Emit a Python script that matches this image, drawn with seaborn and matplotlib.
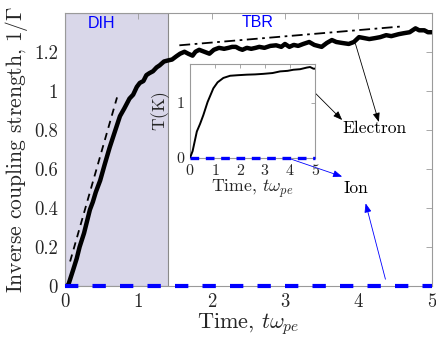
import numpy as np
import pandas as pd
import matplotlib
matplotlib.use("Agg")
import matplotlib.pyplot as plt
import seaborn as sns

# ---- data ----
t_e = [0.03, 0.05, 0.11, 0.16, 0.20, 0.26, 0.30, 0.34, 0.38, 0.42, 0.48, 0.54, 0.61, 0.68, 0.75,
       0.81, 0.88, 0.93, 0.98, 1.02, 1.07, 1.11, 1.15, 1.20, 1.25, 1.29, 1.35, 1.40, 1.46, 1.52,
       1.57, 1.63, 1.68, 1.74, 1.78, 1.83, 1.90, 1.97, 2.03, 2.10, 2.17, 2.23, 2.28, 2.33, 2.38,
       2.42, 2.48, 2.54, 2.60, 2.65, 2.72, 2.80, 2.88, 2.95, 3.00, 3.06, 3.12, 3.18, 3.25, 3.33,
       3.40, 3.45, 3.50, 3.57, 3.64, 3.70, 3.78, 3.87, 3.94, 4.01, 4.08, 4.15, 4.23, 4.30, 4.38,
       4.45, 4.55, 4.62, 4.70, 4.78, 4.83, 4.90, 4.95, 5.00]
inv_gamma_e = [0.00, 0.01, 0.08, 0.14, 0.20, 0.27, 0.33, 0.39, 0.43, 0.48, 0.54, 0.62, 0.71, 0.79, 0.87,
               0.91, 0.96, 0.98, 1.02, 1.04, 1.05, 1.08, 1.09, 1.10, 1.12, 1.13, 1.15, 1.155, 1.16, 1.177,
               1.19, 1.20, 1.19, 1.18, 1.20, 1.21, 1.20, 1.19, 1.21, 1.22, 1.215, 1.22, 1.225, 1.225, 1.215,
               1.21, 1.22, 1.215, 1.22, 1.225, 1.22, 1.23, 1.233, 1.225, 1.24, 1.225, 1.235, 1.23, 1.24, 1.25,
               1.235, 1.23, 1.225, 1.245, 1.26, 1.25, 1.245, 1.24, 1.25, 1.275, 1.27, 1.265, 1.27, 1.275, 1.285,
               1.28, 1.29, 1.295, 1.30, 1.32, 1.31, 1.31, 1.30, 1.30]
t_ion = [0.0, 5.0]
inv_gamma_ion = [0.0, 0.0]

# guide lines
t_dih_fit = [0.07, 0.71]
y_dih_fit = [0.125, 0.966]
t_tbr_fit = [1.56, 4.60]
y_tbr_fit = [1.233, 1.33]

# inset temperature
t_in = [0.0, 0.1, 0.27, 0.4, 0.53, 0.7, 0.93, 1.1, 1.33, 1.6, 1.9, 2.27, 2.6, 2.93, 3.3, 3.6,
        3.9, 4.13, 4.4, 4.67, 4.8, 4.93, 5.0]
T_e_in = [0.0, 0.12, 0.48, 0.62, 0.78, 1.02, 1.27, 1.38, 1.46, 1.50, 1.51, 1.52, 1.525, 1.535,
          1.55, 1.58, 1.59, 1.61, 1.62, 1.65, 1.66, 1.63, 1.63]
t_ion_in = [0.0, 5.0]
T_ion_in = [0.0, 0.0]

xticks = [0, 1, 2, 3, 4, 5]
yticks = [0, 0.2, 0.4, 0.6, 0.8, 1, 1.2]
yticklabels = ["0", "0.2", "0.4", "0.6", "0.8", "1", "1.2"]

sns.set_theme(style="white")
plt.rcParams["font.family"] = ["cmr10"]
plt.rcParams["mathtext.fontset"] = "cm"
plt.rcParams["axes.formatter.use_mathtext"] = True

fig = plt.figure(figsize=(4.36, 3.44), dpi=100)
ax = fig.add_axes([0.149, 0.169, 0.841, 0.794])

frame = "#9a9a9a"
txt = "#262626"

ax.axvspan(0, 1.4, facecolor="#d9d7e9", edgecolor="#8a8a8a", linewidth=0.8, zorder=0)

df_e = pd.DataFrame({"t": t_e, "y": inv_gamma_e})
sns.lineplot(data=df_e, x="t", y="y", ax=ax, color="black", linewidth=3.2, zorder=3)
ax.plot(t_ion, inv_gamma_ion, color="#0000ff", linewidth=3.0, linestyle=(0, (3.2, 3.4)),
        solid_capstyle="butt", dash_capstyle="butt", zorder=4, clip_on=False)
ax.plot(t_dih_fit, y_dih_fit, color="black", linewidth=1.3, linestyle=(0, (4, 3)), zorder=3)
ax.plot(t_tbr_fit, y_tbr_fit, color="black", linewidth=1.3, linestyle=(0, (6, 2.5, 1.5, 2.5)), zorder=3)

ax.set_xlim(0, 5)
ax.set_ylim(0, 1.4)
ax.set_xticks(xticks)
ax.set_xticklabels([str(v) for v in xticks])
ax.set_yticks(yticks)
ax.set_yticklabels(yticklabels)
ax.tick_params(direction="in", length=4, width=0.6, color=frame, labelcolor=txt,
               labelsize=13.5, top=True, right=True, pad=5)
for s in ax.spines.values():
    s.set_color(frame)
    s.set_linewidth(0.8)
ax.set_xlabel(r"Time, $t\omega_{pe}$", fontsize=16, color=txt, labelpad=0)
ax.set_ylabel(r"Inverse coupling strength, $1/\Gamma$", fontsize=15.5, color=txt, labelpad=3)

ax.text(0.50, 1.345, "DIH", color="#0000ff", fontsize=11.5, family="Liberation Sans",
        ha="center", va="center")
ax.text(2.63, 1.35, "TBR", color="#0000ff", fontsize=11.5, family="Liberation Sans",
        ha="center", va="center")

# inset
axin = fig.add_axes([0.436, 0.5416, 0.2867, 0.2715])
df_in = pd.DataFrame({"t": t_in, "T": T_e_in})
sns.lineplot(data=df_in, x="t", y="T", ax=axin, color="black", linewidth=1.4, zorder=3)
axin.plot(t_ion_in, T_ion_in, color="#0000ff", linewidth=2.4, linestyle=(0, (2.6, 2.0)),
          dash_capstyle="butt", zorder=4, clip_on=False)
axin.set_xlim(0, 5)
axin.set_ylim(0, 1.71)
axin.set_xticks(xticks)
axin.set_yticks([0, 1])
axin.set_yticklabels(["0", "1"])
axin.tick_params(direction="in", length=3, width=0.6, color=frame, labelcolor=txt,
                 labelsize=11.5, top=True, right=True, pad=4)
for s in axin.spines.values():
    s.set_color(frame)
    s.set_linewidth(0.8)
axin.set_xlabel(r"Time, $t\omega_{pe}$", fontsize=12.8, color=txt, labelpad=0)
axin.set_ylabel(r"T$(\mathrm{K})$", fontsize=12.5, color=txt, labelpad=3)

# annotations
ax.text(4.226, 0.809, "Electron", fontsize=12.5, color="black", ha="center", va="center")
ax.text(3.97, 0.50, "Ion", fontsize=12.5, color="black", ha="center", va="center")

head = "-|>,head_length=0.9,head_width=0.35"
arrow_k = dict(arrowstyle=head, color="black", lw=0.6, mutation_scale=6, shrinkA=0, shrinkB=0)
arrow_b = dict(arrowstyle=head, color="#0000ff", lw=0.6, mutation_scale=6, shrinkA=0, shrinkB=0)
ax.annotate("", xy=(3.78, 0.85), xycoords="data", xytext=(4.27, 1.52), textcoords=axin.transData,
            arrowprops=arrow_k)
ax.annotate("", xy=(4.28, 0.84), xytext=(3.96, 1.242), arrowprops=arrow_k)
ax.annotate("", xy=(3.78, 0.56), xycoords="data", xytext=(3.87, 0.0), textcoords=axin.transData,
            arrowprops=arrow_b)
ax.annotate("", xy=(4.10, 0.423), xytext=(4.37, 0.034), arrowprops=arrow_b)

fig.savefig("out.png", dpi=100)
